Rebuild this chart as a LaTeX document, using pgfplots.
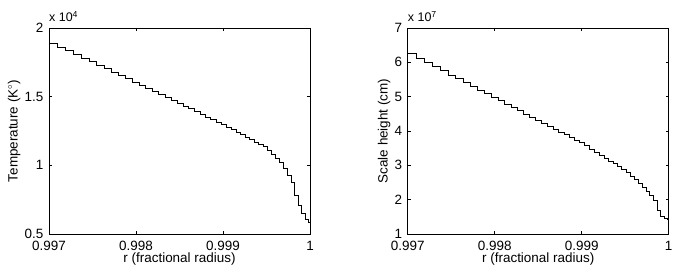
\documentclass[border=0pt]{standalone}
\usepackage{pgfplots}
\pgfplotsset{compat=1.18}
\usepackage{pgfplotstable}
\usepackage{fontspec}
\setmainfont{Liberation Sans}

\pgfplotstableread{
r T H
0.997000 1.891 6.255
0.997096 1.862 6.126
0.997190 1.834 5.999
0.997282 1.807 5.875
0.997373 1.780 5.753
0.997462 1.754 5.633
0.997549 1.728 5.519
0.997634 1.703 5.408
0.997718 1.678 5.298
0.997800 1.654 5.191
0.997881 1.631 5.086
0.997960 1.607 4.981
0.998037 1.584 4.881
0.998113 1.561 4.782
0.998188 1.538 4.683
0.998261 1.516 4.588
0.998333 1.495 4.494
0.998403 1.474 4.403
0.998472 1.453 4.312
0.998540 1.432 4.225
0.998606 1.412 4.141
0.998671 1.392 4.056
0.998735 1.372 3.974
0.998797 1.353 3.894
0.998858 1.335 3.816
0.998918 1.316 3.739
0.998977 1.298 3.660
0.999035 1.279 3.568
0.999092 1.259 3.476
0.999148 1.241 3.387
0.999202 1.222 3.299
0.999256 1.204 3.213
0.999308 1.186 3.129
0.999360 1.169 3.046
0.999410 1.152 2.965
0.999460 1.135 2.886
0.999508 1.109 2.800
0.999556 1.079 2.690
0.999603 1.048 2.580
0.999649 1.019 2.470
0.999694 0.981 2.360
0.999738 0.929 2.250
0.999781 0.876 2.140
0.999823 0.783 1.990
0.999865 0.707 1.690
0.999906 0.649 1.520
0.999946 0.607 1.450
0.999985 0.586 1.420
1.000000 0.586 1.420
}\datatable

\pgfplotsset{
  mystyle/.style={
    anchor=south west,
    scale only axis,
    width=261bp, height=206bp,
    xmin=0.997, xmax=1,
    xtick={0.997,0.998,0.999,1},
    xticklabels={0.997,0.998,0.999,1},
    scaled x ticks=false, scaled y ticks=false,
    tick align=inside,
    major tick length=3bp,
    axis line style={line width=0.6bp},
    every tick/.style={black, line width=0.6bp},
    tick label style={font=\fontsize{13.5}{15}\selectfont},
    xticklabel style={inner sep=0pt, anchor=north, yshift=-7bp},
    yticklabel style={inner sep=0pt, anchor=east, xshift=-5.5bp},
    xlabel={r (fractional radius)},
    every axis x label/.style={at={(axis description cs:0.5,-0.122)}, anchor=center, font=\fontsize{13.5}{15}\selectfont},
    clip mode=individual,
  }
}

\begin{document}
\begin{tikzpicture}
\useasboundingbox (0,0) rectangle (678bp,272bp);
\begin{axis}[mystyle, at={(49bp,38bp)},
  ymin=0.5, ymax=2,
  ytick={0.5,1,1.5,2}, yticklabels={0.5,1,1.5,2},
  ylabel={Temperature (K$^{\circ}$)},
  every axis y label/.style={at={(axis description cs:-0.134,0.5)}, rotate=90, anchor=center, font=\fontsize{13.5}{15}\selectfont},
]
\addplot[const plot, black, line width=0.7bp] table[x=r, y=T] {\datatable};
\node[anchor=base west, font=\fontsize{12.5}{14}\selectfont, inner sep=0pt] at (rel axis cs:0,1) [yshift=6bp] {x 10\textsuperscript{4}};
\end{axis}
\begin{axis}[mystyle, at={(407.7bp,38bp)},
  ymin=1, ymax=7,
  ytick={1,2,3,4,5,6,7}, yticklabels={1,2,3,4,5,6,7},
  ylabel={Scale height (cm)},
  every axis y label/.style={at={(axis description cs:-0.0906,0.5)}, rotate=90, anchor=center, font=\fontsize{13.5}{15}\selectfont},
]
\addplot[const plot, black, line width=0.7bp] table[x=r, y=H] {\datatable};
\node[anchor=base west, font=\fontsize{12.5}{14}\selectfont, inner sep=0pt] at (rel axis cs:0,1) [yshift=6bp] {x 10\textsuperscript{7}};
\end{axis}
\end{tikzpicture}
\end{document}
